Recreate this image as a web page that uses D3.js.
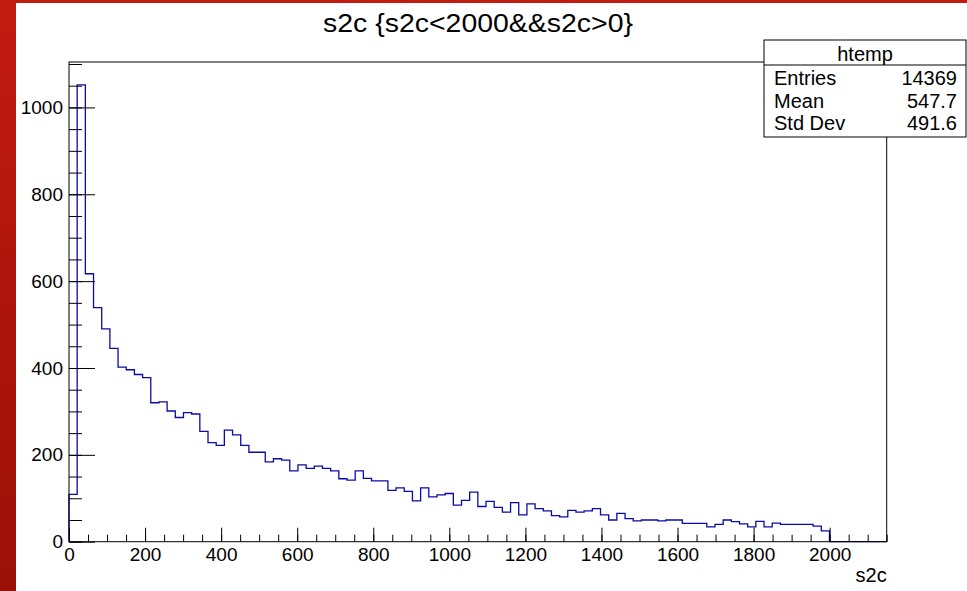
<!DOCTYPE html>
<html>
<head>
<meta charset="utf-8">
<script src="https://cdn.jsdelivr.net/npm/d3@7"></script>
<style>
  body { margin: 0; background: #fff; }
  svg { display: block; }
</style>
</head>
<body>
<svg id="chart"></svg>
<script>
// histogram contents, 100 bins over [0, 2150], bins 93..99 are empty
const binLow = 0;
const binHigh = 2150;
const nBins = 100;
const binCounts = [
  109, 1052, 617, 539, 490, 445, 402, 396, 385, 378,
  320, 322, 301, 286, 297, 294, 254, 228, 222, 257,
  246, 222, 206, 206, 184, 191, 188, 163, 177, 169,
  174, 169, 163, 145, 142, 163, 146, 140, 140, 118,
  124, 116, 94, 124, 103, 108, 111, 84, 95, 114,
  81, 93, 79, 68, 90, 62, 87, 76, 71, 60,
  57, 72, 68, 71, 76, 62, 50, 65, 53, 48,
  50, 50, 48, 50, 50, 42, 42, 42, 34, 40,
  50, 46, 41, 34, 47, 34, 43, 40, 40, 40,
  40, 36, 25
];
const xTicks = [0, 200, 400, 600, 800, 1000, 1200, 1400, 1600, 1800, 2000];
const yTicks = [0, 200, 400, 600, 800, 1000];
const titleText = 's2c {s2c<2000&&s2c>0}';
const xTitle = 's2c';
const statName = 'htemp';
const statLabels = ['Entries', 'Mean', 'Std Dev'];
const statValues = ['14369', '547.7', '491.6'];

const W = 967, H = 591;
const frame = {left: 69, right: 886.7, top: 62, bottom: 541.7};
const font = '"Liberation Sans", Arial, Helvetica, sans-serif';

const svg = d3.select('#chart')
  .attr('width', W)
  .attr('height', H)
  .style('font-family', font);

// red slide background peeking out at left and top
const grad = svg.append('defs').append('linearGradient')
  .attr('id', 'redgrad')
  .attr('x1', 0).attr('y1', 0).attr('x2', 0).attr('y2', 1);
grad.append('stop').attr('offset', '0%').attr('stop-color', '#c21b12');
grad.append('stop').attr('offset', '100%').attr('stop-color', '#9a1007');

svg.append('rect').attr('x', 0).attr('y', 0).attr('width', W).attr('height', H).attr('fill', '#fff');
svg.append('rect').attr('x', 0).attr('y', 0).attr('width', 16).attr('height', H).attr('fill', 'url(#redgrad)');
svg.append('rect').attr('x', 0).attr('y', 0).attr('width', W).attr('height', 3).attr('fill', '#c21b12');

// scales
const ymax = d3.max(binCounts) * 1.05;
const x = d3.scaleLinear().domain([binLow, binHigh]).range([frame.left, frame.right]);
const y = d3.scaleLinear().domain([0, ymax]).range([frame.bottom, frame.top]);

// histogram outline
const binW = (binHigh - binLow) / nBins;
const pts = [[binLow, 0]];
for (let i = 0; i < nBins; i++) {
  pts.push([binLow + i * binW, binCounts[i] || 0]);
}
pts.push([binHigh, 0]);

const line = d3.line()
  .x(d => x(d[0]))
  .y(d => y(d[1]))
  .curve(d3.curveStepAfter);

svg.append('path')
  .datum(pts)
  .attr('d', line)
  .attr('fill', 'none')
  .attr('stroke', '#0a0aa8')
  .attr('stroke-width', 1.3);

// axes, ROOT style: ticks point into the frame
const xMinor = d3.range(0, 2151, 50);
const yMinor = d3.range(0, 1101, 50);

svg.append('g')
  .attr('transform', 'translate(0,' + frame.bottom + ')')
  .call(d3.axisBottom(x).tickValues(xMinor).tickSize(-7).tickFormat(''))
  .call(g => g.select('.domain').remove());

svg.append('g')
  .attr('transform', 'translate(0,' + frame.bottom + ')')
  .call(d3.axisBottom(x).tickValues(xTicks).tickSize(-14).tickPadding(8).tickFormat(d3.format('d')))
  .call(g => g.select('.domain').remove())
  .call(g => g.selectAll('text').attr('dy', '0.71em').attr('y', 6).style('font-size', '19px').style('font-family', font).attr('fill', '#000'));

svg.append('g')
  .attr('transform', 'translate(' + frame.left + ',0)')
  .call(d3.axisLeft(y).tickValues(yMinor).tickSize(-13).tickFormat(''))
  .call(g => g.select('.domain').remove());

svg.append('g')
  .attr('transform', 'translate(' + frame.left + ',0)')
  .call(d3.axisLeft(y).tickValues(yTicks).tickSize(-26).tickPadding(6).tickFormat(d3.format('d')))
  .call(g => g.select('.domain').remove())
  .call(g => g.selectAll('text').style('font-size', '19px').style('font-family', font).attr('fill', '#000'));

svg.selectAll('.tick line').attr('stroke', '#000');

// frame
svg.append('rect')
  .attr('x', frame.left).attr('y', frame.top)
  .attr('width', frame.right - frame.left)
  .attr('height', frame.bottom - frame.top)
  .attr('fill', 'none')
  .attr('stroke', '#000')
  .attr('stroke-width', 1);

// title
svg.append('text')
  .attr('x', 478).attr('y', 32)
  .attr('text-anchor', 'middle')
  .attr('textLength', 310)
  .attr('lengthAdjust', 'spacingAndGlyphs')
  .style('font-size', '26px')
  .text(titleText);

// x axis title
svg.append('text')
  .attr('x', frame.right).attr('y', 582)
  .attr('text-anchor', 'end')
  .style('font-size', '20px')
  .text(xTitle);

// stats box
const box = {x: 764, y: 40, w: 202, h: 97};
svg.append('rect')
  .attr('x', box.x).attr('y', box.y)
  .attr('width', box.w).attr('height', box.h)
  .attr('fill', '#fff')
  .attr('stroke', '#000');
svg.append('line')
  .attr('x1', box.x).attr('x2', box.x + box.w)
  .attr('y1', 65).attr('y2', 65)
  .attr('stroke', '#000');
svg.append('text')
  .attr('x', 865).attr('y', 60.5)
  .attr('text-anchor', 'middle')
  .style('font-size', '20px')
  .text(statName);

const rows = svg.append('g').selectAll('g')
  .data(statLabels)
  .enter()
  .append('g');
rows.append('text')
  .attr('x', 774)
  .attr('y', (d, i) => 85 + i * 22.5)
  .style('font-size', '20px')
  .text(d => d);
rows.append('text')
  .attr('x', 957)
  .attr('y', (d, i) => 85 + i * 22.5)
  .attr('text-anchor', 'end')
  .style('font-size', '20px')
  .text((d, i) => statValues[i]);
</script>
</body>
</html>
